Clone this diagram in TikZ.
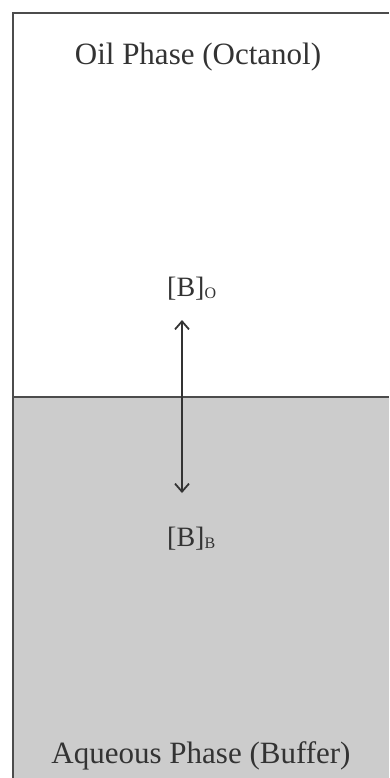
\documentclass[tikz,border=0pt]{standalone}
\usepackage{fontspec}
\setmainfont{Liberation Serif}
\usepackage{tikz}
\usetikzlibrary{arrows.meta}
\tikzset{
  phase label/.style={anchor=base, inner sep=0pt, text=black!80,
    font=\fontsize{31}{36}\selectfont},
  conc label/.style={anchor=base west, inner sep=0pt, text=black!80,
    font=\fontsize{28}{32}\selectfont},
  border line/.style={line width=1.6pt, draw=black!70},
  exchange/.style={line width=1.5pt, draw=black!80,
    {Straight Barb[length=8pt,width=14pt,line width=1.8pt]}-{Straight Barb[length=8pt,width=14pt,line width=1.8pt]}},
}
\newcommand{\phasesub}[1]{\raisebox{-2.5pt}{\fontsize{16}{16}\selectfont #1}}

\begin{document}
\begin{tikzpicture}[x=1pt,y=-1pt]
    \useasboundingbox (0,0) rectangle (389,778);

    % Fill the aqueous layer
    \fill[black!20] (13,397) rectangle (389,778);

    % Draw the container edges and the interface
    \draw[border line] (13,778) -- (13,13) -- (389,13);
    \draw[border line] (13,397) -- (389,397);

    % Label the two phases
    \node[phase label] (oil) at (198,65) {Oil Phase (Octanol)};
    \node[phase label] (aqueous) at (201,763) {Aqueous Phase (Buffer)};

    % Concentrations in each phase
    \node[conc label] (bo) at (167,296) {[B]\phasesub{O}};
    \node[conc label] (bb) at (167,546) {[B]\phasesub{B}};

    % Partition equilibrium
    \coordinate (upper tip) at (182,320);
    \coordinate (lower tip) at (182,493);
    \draw[exchange] (upper tip) -- (lower tip);
  \end{tikzpicture}
\end{document}
